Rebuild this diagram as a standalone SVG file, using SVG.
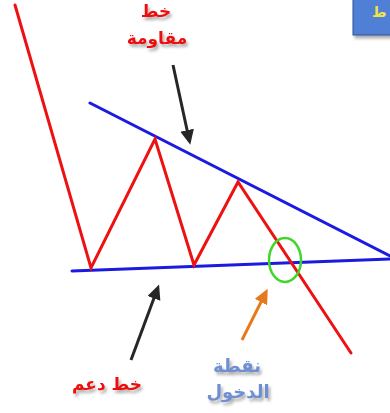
<svg xmlns="http://www.w3.org/2000/svg" width="390" height="413" viewBox="0 0 390 413">
<defs>
<style>
.red{fill:none;stroke:#ee1111;stroke-width:3;stroke-linejoin:miter;stroke-linecap:round}
.blue{fill:none;stroke:#1a1ae0;stroke-width:3;stroke-linecap:round}
.blk{fill:none;stroke:#262626;stroke-width:3}
.org{fill:none;stroke:#e67a1a;stroke-width:3}
.lbl{font-family:"DejaVu Sans",sans-serif;font-weight:bold;text-anchor:middle}
.rt{fill:#ee0a0a;font-size:17px}
.bt{fill:#6f8fd2;font-size:18px}
</style>
<filter id="sh" x="-30%" y="-30%" width="160%" height="180%">
<feDropShadow dx="2" dy="3" stdDeviation="1.5" flood-color="#777" flood-opacity="0.6"/>
</filter>
<marker id="ab" markerWidth="6" markerHeight="6" refX="3" refY="2.3" orient="auto" markerUnits="strokeWidth">
<path d="M0,0 L5,2.3 L0,4.6 Z" fill="#262626"/>
</marker>
<marker id="ao" markerWidth="6" markerHeight="6" refX="3" refY="2.3" orient="auto" markerUnits="strokeWidth">
<path d="M0,0 L5,2.3 L0,4.6 Z" fill="#e67a1a"/>
</marker>
</defs>
<rect width="390" height="413" fill="#fff"/>
<g id="corner-box">
<rect x="353" y="-2" width="40" height="37" fill="#4f80d6" stroke="#2b4f99" stroke-width="1" filter="url(#sh)"/>
<text x="372" y="17" font-family="DejaVu Sans,sans-serif" font-weight="bold" font-size="14" fill="#f0e24a" text-anchor="start">ط</text>
</g>
<g id="connectors">
<line class="blue" x1="90" y1="103" x2="390" y2="256"/>
<line class="blue" x1="72" y1="271" x2="390" y2="259"/>
<polyline class="red" points="15,5 91,268 155,139 194,265 238,182 351,353"/>
<line class="blk" x1="173" y1="65" x2="189" y2="139" marker-end="url(#ab)"/>
<line class="blk" x1="131" y1="360" x2="157" y2="290" marker-end="url(#ab)"/>
<line class="org" x1="242" y1="340" x2="265" y2="294" marker-end="url(#ao)"/>
</g>
<g id="entry-circle">
<ellipse cx="285" cy="260" rx="16" ry="22" fill="none" stroke="#3fd62a" stroke-width="2.5"/>
</g>
<g id="resistance-label" filter="url(#sh)">
<text class="lbl rt" x="156" y="17">خط</text>
<text class="lbl rt" x="157" y="44">مقاومة</text>
</g>
<g id="support-label" filter="url(#sh)">
<text class="lbl rt" x="107" y="390">خط دعم</text>
</g>
<g id="entry-label" filter="url(#sh)">
<text class="lbl bt" x="237" y="372">نقطة</text>
<text class="lbl bt" x="238" y="398">الدخول</text>
</g>
</svg>
